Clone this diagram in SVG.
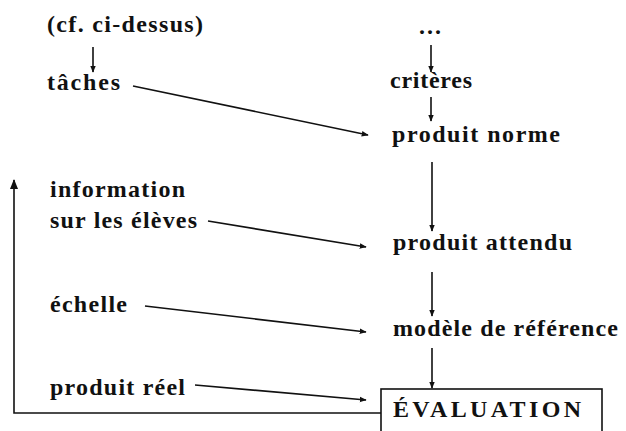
<svg xmlns="http://www.w3.org/2000/svg" width="626" height="431" viewBox="0 0 626 431">
<defs>
<style>
text{font-family:"Liberation Serif","Times New Roman",serif;font-weight:bold;font-size:24px;fill:#111}
.c{stroke:#111;stroke-width:1.6;fill:none}
</style>
<marker id="ah" viewBox="0 0 10 10" refX="9" refY="5" markerWidth="7" markerHeight="7" markerUnits="userSpaceOnUse" orient="auto">
<path d="M0,1 L10,5 L0,9 z" fill="#111"/>
</marker>
<marker id="ahb" viewBox="0 0 10 10" refX="9" refY="5" markerWidth="10" markerHeight="10" markerUnits="userSpaceOnUse" orient="auto">
<path d="M0,1 L10,5 L0,9 z" fill="#111"/>
</marker>
</defs>
<rect width="626" height="431" fill="#fff"/>
<g id="n-cf"><text x="47" y="32" textLength="156" lengthAdjust="spacing">(cf. ci-dessus)</text></g>
<g id="n-taches"><text x="47" y="90" textLength="73" lengthAdjust="spacing">tâches</text></g>
<g id="n-dots"><text x="419" y="34" textLength="22" lengthAdjust="spacing">...</text></g>
<g id="n-criteres"><text x="390" y="88" textLength="82" lengthAdjust="spacing">critères</text></g>
<g id="n-norme"><text x="392" y="142" textLength="168" lengthAdjust="spacing">produit norme</text></g>
<g id="n-info"><text x="50" y="197" textLength="135" lengthAdjust="spacing">information</text><text x="50" y="228" textLength="147" lengthAdjust="spacing">sur les élèves</text></g>
<g id="n-attendu"><text x="393" y="250" textLength="179" lengthAdjust="spacing">produit attendu</text></g>
<g id="n-echelle"><text x="50" y="312" textLength="77" lengthAdjust="spacing">échelle</text></g>
<g id="n-modele"><text x="393" y="336" textLength="225" lengthAdjust="spacing">modèle de référence</text></g>
<g id="n-reel"><text x="50" y="395" textLength="135" lengthAdjust="spacing">produit réel</text></g>
<g id="n-eval"><rect x="381" y="389" width="221" height="60" class="c"/><text x="393" y="417" textLength="188" lengthAdjust="spacing">ÉVALUATION</text></g>
<g id="connectors">
<line class="c" x1="93" y1="47" x2="93" y2="72" marker-end="url(#ah)"/>
<line class="c" x1="431" y1="45" x2="431" y2="72" marker-end="url(#ah)"/>
<line class="c" x1="431" y1="97" x2="431" y2="121" marker-end="url(#ah)"/>
<line class="c" x1="133" y1="86" x2="368" y2="135" marker-end="url(#ah)"/>
<line class="c" x1="432" y1="162" x2="432" y2="231" marker-end="url(#ah)"/>
<line class="c" x1="208" y1="221" x2="366" y2="247" marker-end="url(#ah)"/>
<line class="c" x1="432" y1="272" x2="432" y2="316" marker-end="url(#ah)"/>
<line class="c" x1="145" y1="306" x2="366" y2="332" marker-end="url(#ah)"/>
<line class="c" x1="432" y1="348" x2="432" y2="388" marker-end="url(#ah)"/>
<line class="c" x1="195" y1="385" x2="366" y2="400" marker-end="url(#ah)"/>
<polyline class="c" points="381,413 14,413 14,180" marker-end="url(#ahb)"/>
</g>
</svg>
